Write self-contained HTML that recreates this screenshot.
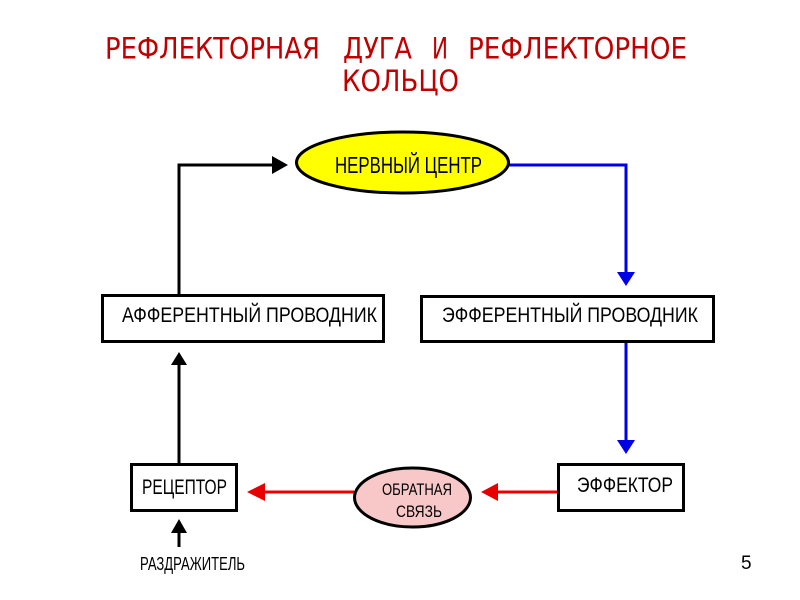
<!DOCTYPE html>
<html>
<head>
<meta charset="utf-8">
<style>
  html, body { margin: 0; padding: 0; background: #fff; }
  body { width: 800px; height: 600px; overflow: hidden; }
  svg { display: block; }
</style>
</head>
<body>
<svg width="800" height="600" viewBox="0 0 800 600" xmlns="http://www.w3.org/2000/svg">
  <rect x="0" y="0" width="800" height="600" fill="#ffffff"/>

  <!-- Title -->
  <g font-family="'DejaVu Sans', 'Liberation Sans', sans-serif" font-size="29" fill="#C00000">
    <text x="105" y="58.5" textLength="215" lengthAdjust="spacingAndGlyphs">РЕФЛЕКТОРНАЯ</text>
    <text x="343" y="58.5" textLength="69" lengthAdjust="spacingAndGlyphs">ДУГА</text>
    <text x="432" y="58.5" textLength="16" lengthAdjust="spacingAndGlyphs">И</text>
    <text x="468" y="58.5" textLength="219" lengthAdjust="spacingAndGlyphs">РЕФЛЕКТОРНОЕ</text>
    <text x="342" y="91" textLength="117" lengthAdjust="spacingAndGlyphs">КОЛЬЦО</text>
  </g>

  <!-- Black arrow: afferent -> nerve center -->
  <polyline points="179,294 179,165 275,165" fill="none" stroke="#000" stroke-width="3"/>
  <polygon points="272,156 288,165 272,174" fill="#000"/>

  <!-- Blue arrow: nerve center -> efferent -->
  <polyline points="509,165 626,165 626,274" fill="none" stroke="#0000E6" stroke-width="3"/>
  <polygon points="617,272 635,272 626,286" fill="#0000E6"/>

  <!-- Blue arrow: efferent -> effector -->
  <line x1="626" y1="343" x2="626" y2="442" stroke="#0000E6" stroke-width="3"/>
  <polygon points="617,440 635,440 626,454" fill="#0000E6"/>

  <!-- Nerve center ellipse -->
  <ellipse cx="402.5" cy="162.5" rx="106" ry="30.5" fill="#FFFF00" stroke="#000" stroke-width="3"/>
  <text x="335" y="173" font-family="'Liberation Sans', sans-serif" font-size="23" fill="#000" textLength="147" lengthAdjust="spacingAndGlyphs">НЕРВНЫЙ ЦЕНТР</text>

  <!-- Afferent box -->
  <rect x="102.5" y="295.5" width="281" height="46" fill="#fff" stroke="#000" stroke-width="3"/>
  <text x="122" y="322" font-family="'Liberation Sans', sans-serif" font-size="21" fill="#000" textLength="255" lengthAdjust="spacingAndGlyphs">АФФЕРЕНТНЫЙ ПРОВОДНИК</text>

  <!-- Efferent box -->
  <rect x="421.5" y="296.5" width="292" height="45" fill="#fff" stroke="#000" stroke-width="3"/>
  <text x="442" y="322" font-family="'Liberation Sans', sans-serif" font-size="21" fill="#000" textLength="256" lengthAdjust="spacingAndGlyphs">ЭФФЕРЕНТНЫЙ ПРОВОДНИК</text>

  <!-- Black arrow: receptor -> afferent -->
  <line x1="179" y1="463" x2="179" y2="362" stroke="#000" stroke-width="3"/>
  <polygon points="171,365 187,365 179,352" fill="#000"/>

  <!-- Receptor box -->
  <rect x="131.5" y="464.5" width="105" height="46" fill="#fff" stroke="#000" stroke-width="3"/>
  <text x="142" y="494" font-family="'Liberation Sans', sans-serif" font-size="21" fill="#000" textLength="85" lengthAdjust="spacingAndGlyphs">РЕЦЕПТОР</text>

  <!-- Stimulus arrow -->
  <line x1="179" y1="547" x2="179" y2="530" stroke="#000" stroke-width="3"/>
  <polygon points="171,533 187,533 179,519" fill="#000"/>
  <text x="140" y="570" font-family="'Liberation Sans', sans-serif" font-size="18" fill="#000" textLength="105" lengthAdjust="spacingAndGlyphs">РАЗДРАЖИТЕЛЬ</text>

  <!-- Red arrow: feedback -> receptor -->
  <line x1="354" y1="492" x2="262" y2="492" stroke="#E80000" stroke-width="3"/>
  <polygon points="265,483 265,501 247,492" fill="#E80000"/>

  <!-- Red arrow: effector -> feedback -->
  <line x1="558" y1="492" x2="495" y2="492" stroke="#E80000" stroke-width="3"/>
  <polygon points="498,483 498,501 481,492" fill="#E80000"/>

  <!-- Feedback ellipse -->
  <ellipse cx="412.5" cy="497.5" rx="58" ry="29.5" fill="#F8C8C8" stroke="#000" stroke-width="3"/>
  <text x="382" y="495" font-family="'Liberation Sans', sans-serif" font-size="17" fill="#000" textLength="70" lengthAdjust="spacingAndGlyphs">ОБРАТНАЯ</text>
  <text x="396" y="517" font-family="'Liberation Sans', sans-serif" font-size="17" fill="#000" textLength="46" lengthAdjust="spacingAndGlyphs">СВЯЗЬ</text>

  <!-- Effector box -->
  <rect x="558.5" y="464.5" width="125" height="46" fill="#fff" stroke="#000" stroke-width="3"/>
  <text x="577" y="492" font-family="'Liberation Sans', sans-serif" font-size="21" fill="#000" textLength="96" lengthAdjust="spacingAndGlyphs">ЭФФЕКТОР</text>

  <!-- Page number -->
  <text x="741" y="569" font-family="'Liberation Sans', sans-serif" font-size="19" fill="#000">5</text>
</svg>
</body>
</html>
